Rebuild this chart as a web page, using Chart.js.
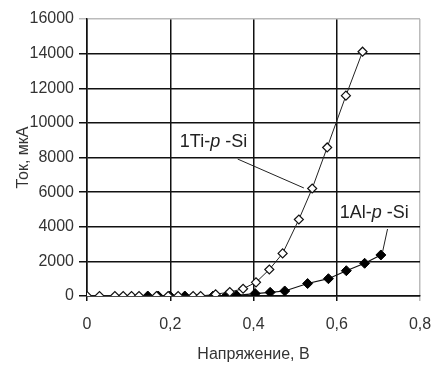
<!DOCTYPE html>
<html>
<head>
<meta charset="utf-8">
<script src="https://cdn.jsdelivr.net/npm/chart.js@4.4.0/dist/chart.umd.min.js"></script>
<style>
html,body{margin:0;padding:0;background:#fff;}
#wrap{width:433px;height:365px;position:relative;}
</style>
</head>
<body>
<div id="wrap"><canvas id="c" width="433" height="365"></canvas></div>
<script>
// Data
const tiVoltage = [0, 0.03, 0.067, 0.087, 0.107, 0.125, 0.167, 0.195, 0.219, 0.255, 0.273, 0.309, 0.343, 0.375, 0.406, 0.438, 0.470, 0.509, 0.541, 0.577, 0.622, 0.662];
const tiCurrent = [0, 0, 0, 0, 0, 0, 0, 0, 0, 0, 0, 100, 230, 420, 790, 1530, 2460, 4420, 6210, 8580, 11570, 14110];
const alVoltage = [0.146, 0.171, 0.199, 0.235, 0.303, 0.335, 0.359, 0.404, 0.440, 0.475, 0.530, 0.580, 0.623, 0.667, 0.706];
const alCurrent = [0, 0, 0, 0, 0, 20, 40, 140, 210, 290, 720, 1000, 1460, 1890, 2370];
const xTicks = [0, 0.2, 0.4, 0.6, 0.8];
const yTicks = [0, 2000, 4000, 6000, 8000, 10000, 12000, 14000, 16000];
const seriesNames = ['1Ti-p-Si', '1Al-p-Si'];
// Annotation labels: [prefix, italic, suffix], anchor x, anchor y (data units)
const labelTexts = [['1Ti-', 'p', ' -Si'], ['1Al-', 'p', ' -Si']];
const labelX = [0.223, 0.607];
const labelY = [8900, 4800];
// Leader lines: start/end in data units
const leaderX1 = [0.362, 0.722];
const leaderY1 = [7910, 3870];
const leaderX2 = [0.521, 0.710];
const leaderY2 = [6240, 2540];

const toPts = (xs, ys) => xs.map((x, i) => ({x: x, y: ys[i]}));

const annotate = {
  id: 'annotate',
  afterDatasetsDraw(chart) {
    const ctx = chart.ctx, xs = chart.scales.x, ys = chart.scales.y;
    ctx.save();
    ctx.strokeStyle = '#222';
    ctx.lineWidth = 1;
    for (let i = 0; i < leaderX1.length; i++) {
      ctx.beginPath();
      ctx.moveTo(xs.getPixelForValue(leaderX1[i]), ys.getPixelForValue(leaderY1[i]));
      ctx.lineTo(xs.getPixelForValue(leaderX2[i]), ys.getPixelForValue(leaderY2[i]));
      ctx.stroke();
    }
    ctx.fillStyle = '#222';
    ctx.textBaseline = 'middle';
    ctx.textAlign = 'left';
    for (let i = 0; i < labelTexts.length; i++) {
      let px = xs.getPixelForValue(labelX[i]);
      const py = ys.getPixelForValue(labelY[i]);
      const parts = labelTexts[i];
      const fonts = ['18px "Liberation Sans", Arial, sans-serif', 'italic 18px "Liberation Sans", Arial, sans-serif', '18px "Liberation Sans", Arial, sans-serif'];
      for (let k = 0; k < parts.length; k++) {
        ctx.font = fonts[k];
        ctx.fillText(parts[k], px, py);
        px += ctx.measureText(parts[k]).width;
      }
    }
    ctx.restore();
  }
};

const tickFont = {family: '"Liberation Sans", Arial, sans-serif', size: 16};
const titleFont = {family: '"Liberation Sans", Arial, sans-serif', size: 16};

new Chart(document.getElementById('c'), {
  type: 'scatter',
  data: {
    datasets: [
      {
        label: seriesNames[0],
        data: toPts(tiVoltage, tiCurrent),
        showLine: true,
        borderColor: '#222',
        borderWidth: 1,
        pointStyle: 'rectRot',
        pointRadius: 4.5,
        pointBackgroundColor: '#fff',
        pointBorderColor: '#111',
        pointBorderWidth: 1.2
      },
      {
        label: seriesNames[1],
        data: toPts(alVoltage, alCurrent),
        showLine: true,
        borderColor: '#111',
        borderWidth: 1.2,
        pointStyle: 'rectRot',
        pointRadius: 5,
        pointBackgroundColor: '#000',
        pointBorderColor: '#000',
        pointBorderWidth: 1
      }
    ]
  },
  options: {
    responsive: false,
    animation: false,
    devicePixelRatio: 1,
    layout: {padding: {left: 0, right: 13, top: 19, bottom: 0}},
    plugins: {legend: {display: false}, tooltip: {enabled: false}},
    scales: {
      x: {
        type: 'linear',
        min: 0, max: 0.8,
        afterBuildTicks: s => { s.ticks = xTicks.map(v => ({value: v})); },
        afterFit: s => { s.height = 69; s.paddingRight = 0; s.paddingLeft = 0; },
        ticks: {
          font: tickFont, color: '#333', padding: 14,
          callback: v => (v === 0 ? '0' : v.toFixed(1).replace('.', ',')),
          maxRotation: 0
        },
        grid: {
          color: ctx => (ctx.tick && ctx.tick.value === 0.8 ? '#bbb' : '#111'),
          lineWidth: 1.5,
          tickLength: 5
        },
        border: {color: '#111', width: 1.5},
        title: {display: true, text: 'Напряжение, В', font: titleFont, color: '#333', padding: {top: 6, bottom: 1}}
      },
      y: {
        type: 'linear',
        min: 0, max: 16000,
        afterBuildTicks: s => { s.ticks = yTicks.map(v => ({value: v})); },
        afterFit: s => { s.width = 87; s.paddingTop = 0; s.paddingBottom = 0; },
        ticks: {font: tickFont, color: '#333', padding: 5, callback: v => String(v)},
        grid: {
          color: ctx => (ctx.tick && ctx.tick.value === 16000 ? '#bbb' : '#111'),
          lineWidth: 1.5,
          tickLength: 8
        },
        border: {color: '#111', width: 1.5},
        title: {display: true, text: 'Ток, мкА', font: titleFont, color: '#333', padding: {top: 14, bottom: 0}}
      }
    }
  },
  plugins: [annotate]
});
</script>
</body>
</html>
